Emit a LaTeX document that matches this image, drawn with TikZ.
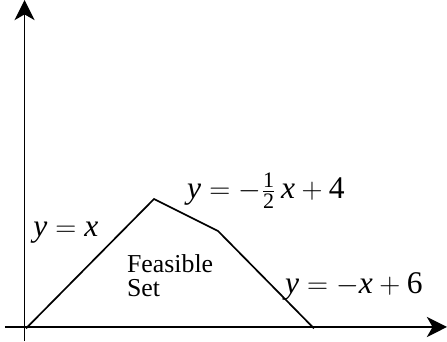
\documentclass[tikz,border=0pt]{standalone}
\usepackage{fontspec}
\setmainfont{Liberation Serif}
\usepackage{amsmath}
\usetikzlibrary{arrows.meta, positioning}

\begin{document}
\begin{tikzpicture}[
    axis/.style={line width=0.9pt, -{Stealth[length=0.42cm, width=0.42cm, inset=0.12cm]}},
    boundary/.style={line width=1pt, line join=miter},
    eqn/.style={anchor=base, inner sep=0pt, font=\fontsize{18.7}{22}\selectfont},
    region/.style={anchor=base west, inner sep=0pt, align=left, font=\fontsize{15.3}{14.4}\selectfont}]
    \useasboundingbox (-0.542,-0.292) rectangle (8.771,6.8125);

    % Coordinate axes
    \coordinate (xstart) at (-0.44,0);
    \coordinate (xend) at (8.771,0);
    \coordinate (ystart) at (-0.03,-0.292);
    \coordinate (yend) at (-0.03,6.8125);
    \draw[axis] (xstart) -- (xend);
    \draw[axis] (ystart) -- (yend);

    % Boundary of the feasible set
    \coordinate (O) at (0,-0.03);
    \coordinate (A) at (8/3,8/3);
    \coordinate (B) at (4,2);
    \coordinate (C) at (6,-0.03);
    \draw[boundary] (O) -- (A) -- (B) -- (C);

    % Constraint lines
    \node[eqn] (lineone) at (0.83,1.875) {$\textit{y} = \textit{x}$};
    \node[eqn] (linetwo) at (5.0,2.67) {$\textit{y} = -\frac{\text{1}}{\text{2}}\,\textit{x} + \text{4}$};
    \node[eqn] (linethree) at (6.83,0.69) {$\textit{y} = -\textit{x} + \text{6}$};

    \node[region] (feasible) at (2.10,0.625) {Feasible\\Set};
\end{tikzpicture}
\end{document}
